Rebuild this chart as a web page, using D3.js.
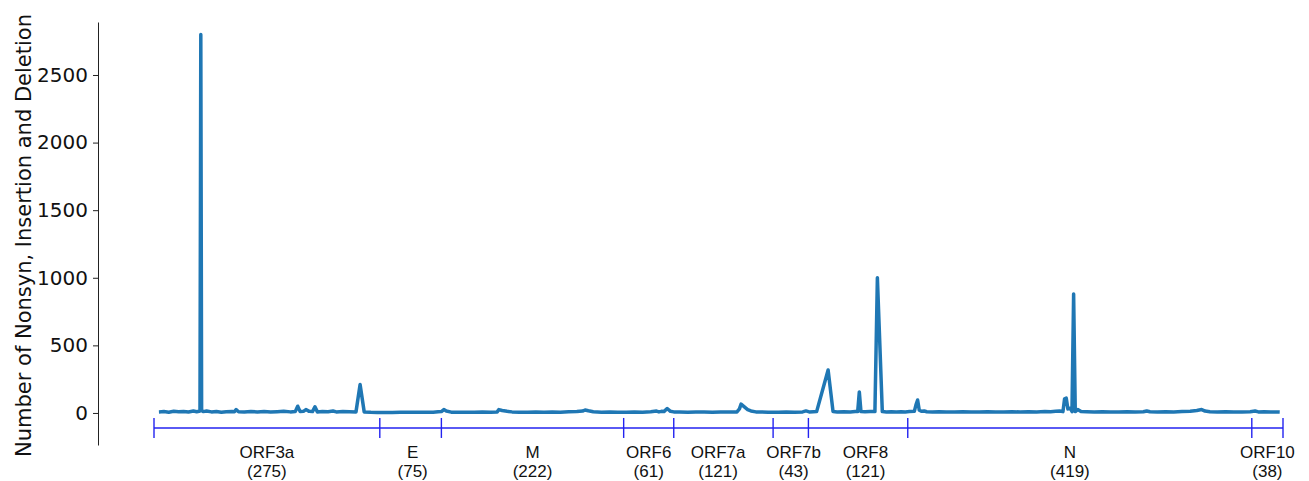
<!DOCTYPE html>
<html>
<head>
<meta charset="utf-8">
<script src="https://cdn.jsdelivr.net/npm/d3@7"></script>
<style>
  html, body { margin: 0; padding: 0; background: #fff; }
  svg { display: block; }
</style>
</head>
<body>
<svg id="chart" width="1309" height="481"></svg>
<script>
// Genes along the structural/accessory region, with lengths in amino acids
const genes = ["ORF3a", "E", "M", "ORF6", "ORF7a", "ORF7b", "ORF8", "N", "ORF10"];
const geneLengths = [275, 75, 222, 61, 121, 43, 121, 419, 38];
// Where each gene's label sits, in amino-acid coordinates
const labelAt = [137.5, 315, 461, 602.5, 687, 779, 866.5, 1115.5, 1356];

const yTicks = [0, 500, 1000, 1500, 2000, 2500];

// Concatenated amino-acid position and the number of nonsyn/insertion/deletion events
const positions = [
  6, 12, 18, 24, 30, 36, 42, 48, 52, 55, 56, 57, 58, 60, 64, 70, 76, 82, 88, 95,
  98, 100, 103, 110, 118, 126, 134, 142, 150, 158, 166, 172, 175, 178, 182, 185, 189, 193, 196, 199,
  205, 212, 218, 222, 230, 238, 246, 251, 256, 264, 272,
  280, 290, 300, 310, 320, 330, 340, 346, 350, 353, 356, 362,
  370, 380, 390, 400, 410, 418, 420, 424, 430, 436, 445, 455, 465, 475, 485, 495, 505, 515, 522, 525, 529, 535, 545, 555, 565,
  575, 585, 595, 605, 612, 615, 618, 621, 625, 629, 633,
  640, 650, 660, 670, 680, 690, 700, 710, 713, 715, 719, 723, 727, 733, 740, 748,
  760, 770, 780, 790, 794, 798, 803, 807, 821, 827, 832,
  840, 848, 854, 857, 859, 861, 866, 872, 878, 881, 887, 892, 898, 904, 910, 915,
  920, 926, 928, 930, 932, 935, 938, 941, 948, 956, 965, 975, 985, 995, 1005, 1015, 1025, 1035, 1045, 1055,
  1065, 1075, 1085, 1092, 1098, 1103, 1107, 1109, 1111, 1113, 1116, 1118, 1120, 1122, 1125, 1129, 1136, 1145, 1155, 1165,
  1175, 1185, 1195, 1205, 1209, 1213, 1222, 1232, 1242, 1252, 1262, 1270, 1276, 1280, 1286, 1295, 1305, 1315, 1325, 1335,
  1341, 1345, 1352, 1360, 1366, 1371
];
const counts = [
  8, 10, 6, 12, 9, 11, 7, 14, 9, 12, 15, 2800, 18, 10, 14, 8, 10, 6, 9, 11,
  9, 25, 9, 7, 10, 8, 11, 7, 9, 12, 8, 10, 50, 10, 12, 25, 12, 10, 45, 8,
  10, 9, 14, 8, 10, 9, 8, 210, 8, 5, 4,
  4, 4, 5, 5, 6, 5, 6, 9, 10, 25, 14, 6,
  5, 6, 5, 7, 6, 8, 25, 18, 12, 8, 6, 5, 7, 6, 8, 6, 9, 11, 14, 22, 16, 9, 6, 8, 5,
  6, 7, 6, 9, 14, 8, 12, 10, 33, 12, 8,
  7, 6, 8, 7, 6, 8, 7, 8, 30, 65, 45, 25, 15, 8, 8, 6,
  6, 7, 6, 8, 15, 8, 9, 10, 318, 10, 8,
  9, 8, 10, 10, 155, 10, 9, 10, 10, 1000, 10, 8, 9, 8, 9, 8,
  10, 12, 60, 96, 20, 12, 15, 9, 8, 9, 7, 8, 9, 7, 8, 9, 7, 8, 9, 7,
  9, 8, 10, 9, 12, 15, 10, 105, 110, 30, 35, 10, 880, 10, 25, 10, 9, 8, 9, 7,
  8, 9, 7, 9, 15, 9, 8, 9, 8, 10, 12, 18, 25, 14, 9, 8, 9, 7, 8, 9,
  14, 8, 9, 7, 8, 7
];

const svg = d3.select("#chart");

const totalLength = d3.sum(geneLengths);
const x = d3.scaleLinear().domain([0, totalLength]).range([154, 1283]);
const y = d3.scaleLinear().domain([-237, 2892]).range([445, 22]);

// Left axis
const yAxis = d3.axisLeft(y)
  .tickValues(yTicks)
  .tickFormat(d3.format("d"))
  .tickSize(5)
  .tickSizeOuter(0)
  .tickPadding(5);
const gy = svg.append("g").attr("transform", "translate(98,0)").call(yAxis);
gy.select(".domain").attr("stroke", "#222").attr("stroke-width", 1);
gy.selectAll(".tick line").attr("stroke", "#222").attr("stroke-width", 1);
gy.selectAll(".tick text")
  .attr("x", -10)
  .attr("text-anchor", "end")
  .style("font-family", "'DejaVu Sans'")
  .style("font-size", "20px")
  .attr("fill", "#111");

svg.append("text")
  .attr("transform", `translate(31,${(y.range()[0] + y.range()[1]) / 2 + 2}) rotate(-90)`)
  .attr("text-anchor", "middle")
  .style("font-family", "'DejaVu Sans'")
  .style("font-size", "21px")
  .attr("fill", "#111")
  .text("Number of Nonsyn, Insertion and Deletion");

// Event counts along the concatenated genes
const points = positions.map((p, i) => [p, counts[i]]);
const line = d3.line().x(d => x(d[0])).y(d => y(d[1]));
svg.append("path")
  .datum(points)
  .attr("d", line)
  .attr("fill", "none")
  .attr("stroke", "#1f77b4")
  .attr("stroke-width", 3.5)
  .attr("stroke-linejoin", "round")
  .attr("stroke-linecap", "butt");

// Gene track below the baseline
const trackY = y(0) + 15;
const bounds = [0].concat(Array.from(d3.cumsum(geneLengths)));
const track = svg.append("g");
track.append("line")
  .attr("x1", x(0)).attr("x2", x(totalLength))
  .attr("y1", trackY).attr("y2", trackY)
  .attr("stroke", "#2323f0").attr("stroke-width", 1.4);
track.selectAll("line.bound")
  .data(bounds)
  .join("line")
  .attr("class", "bound")
  .attr("x1", d => x(d)).attr("x2", d => x(d))
  .attr("y1", trackY - 10).attr("y2", trackY + 10)
  .attr("stroke", "#2323f0").attr("stroke-width", 1.4);

const labels = svg.append("g")
  .style("font-family", "'Liberation Sans', Arial, sans-serif")
  .style("font-size", "17px")
  .attr("fill", "#111")
  .attr("text-anchor", "middle");
labels.selectAll("text.name")
  .data(genes)
  .join("text")
  .attr("class", "name")
  .attr("x", (d, i) => x(labelAt[i]))
  .attr("y", y(0) + 45)
  .text(d => d);
labels.selectAll("text.len")
  .data(geneLengths)
  .join("text")
  .attr("class", "len")
  .attr("x", (d, i) => x(labelAt[i]))
  .attr("y", y(0) + 64)
  .text(d => `(${d})`);
</script>
</body>
</html>
